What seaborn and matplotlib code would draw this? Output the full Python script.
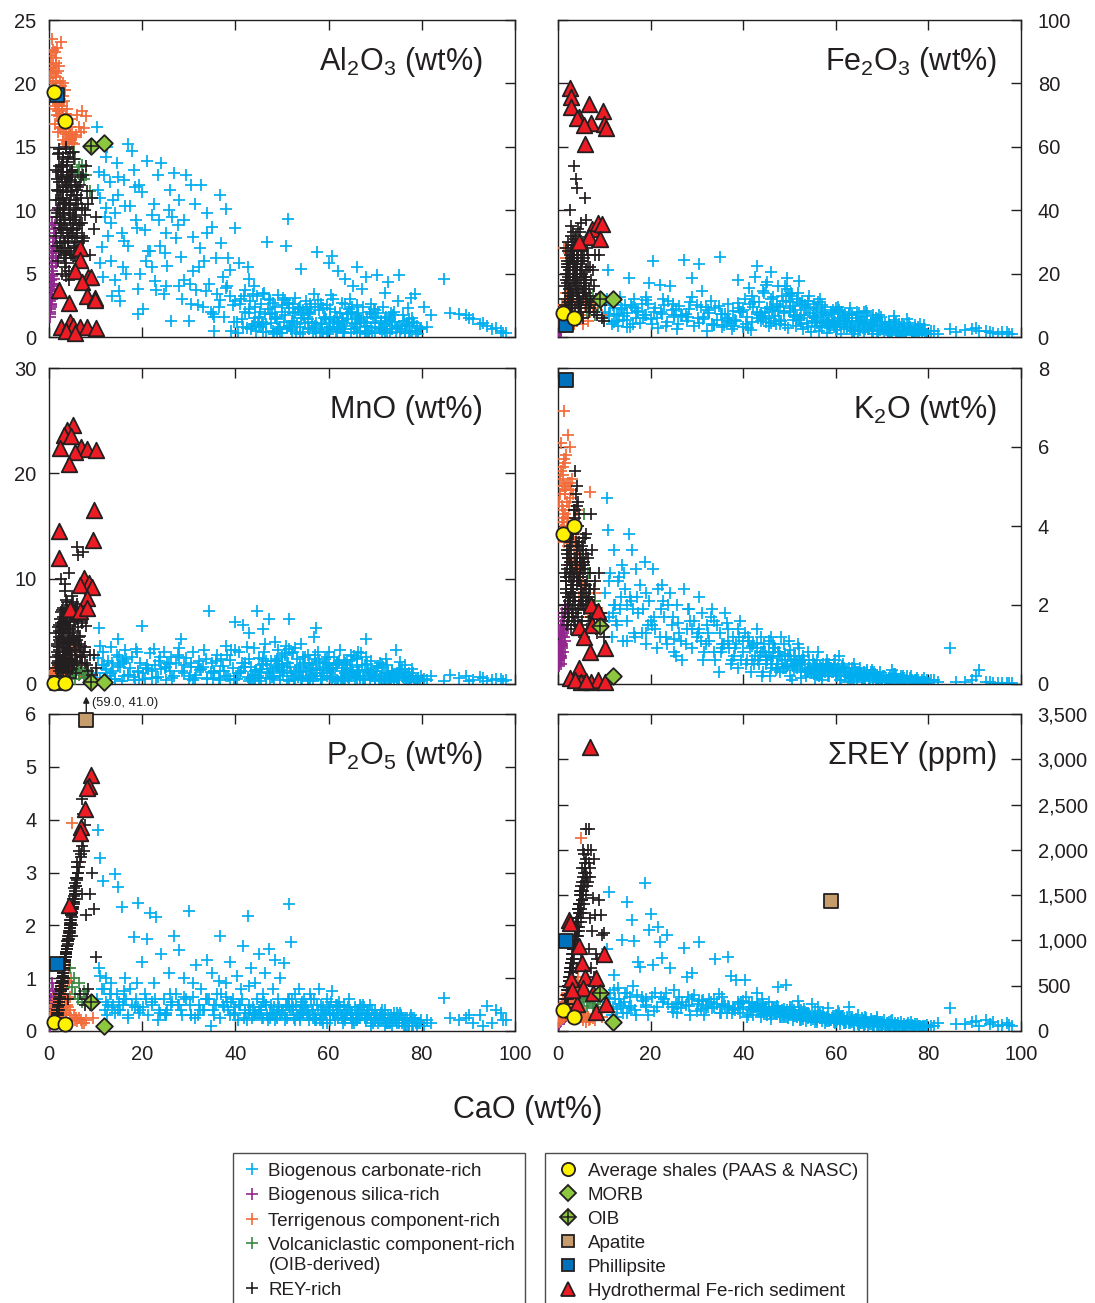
import matplotlib
matplotlib.use("Agg")
import matplotlib.pyplot as plt
import seaborn as sns
import pandas as pd
from matplotlib.lines import Line2D
from matplotlib.ticker import FuncFormatter
from matplotlib.legend_handler import HandlerLine2D
from matplotlib.transforms import Affine2D

# ---------------- data ----------------
# Biogenous carbonate-rich sediments (shared CaO for all panels)
carb_cao = [
    10.2, 10.5, 10.8, 11.0, 11.3, 11.6, 12.0, 12.3, 12.7, 13.0,
    13.4, 13.8, 14.1, 14.5, 14.9, 15.3, 15.6, 16.0, 16.4, 16.9,
    17.3, 17.8, 18.2, 18.7, 19.1, 19.6, 20.0, 20.5, 21.0, 21.6,
    22.0, 22.5, 23.0, 23.6, 24.1, 24.6, 25.1, 25.7, 26.2, 26.8,
    27.3, 27.8, 28.3, 28.9, 29.4, 30.0, 30.5, 31.0, 31.6, 32.2,
    32.7, 33.3, 33.9, 34.4, 35.0, 35.5, 36.1, 36.7, 37.3, 37.9,
    38.4, 38.9, 39.4, 39.9, 40.3, 40.8, 41.2, 41.7, 42.1, 42.6,
    43.0, 43.4, 43.9, 44.3, 44.7, 45.1, 45.5, 46.0, 46.4, 46.8,
    47.2, 47.6, 48.0, 48.4, 48.8, 49.2, 49.6, 50.0, 50.4, 50.8,
    51.2, 51.6, 52.0, 52.4, 52.8, 53.2, 53.6, 54.0, 54.4, 54.8,
    55.2, 55.6, 56.0, 56.4, 56.8, 57.2, 57.6, 58.0, 58.4, 58.8,
    59.2, 59.6, 60.0, 60.4, 60.8, 61.2, 61.6, 62.0, 62.4, 62.8,
    63.2, 63.6, 64.0, 64.4, 64.8, 65.2, 65.6, 66.0, 66.4, 66.8,
    67.2, 67.6, 68.0, 68.4, 68.8, 69.2, 69.6, 70.0, 70.4, 70.8,
    71.2, 71.6, 72.0, 72.4, 72.8, 73.2, 73.6, 74.0, 74.4, 74.8,
    75.2, 75.6, 76.0, 76.4, 76.8, 77.2, 77.6, 78.0, 78.6, 79.2,
    40.5, 42.9, 45.8, 48.2, 50.6, 53.0, 55.5, 58.1, 61.0, 63.9,
    44.0, 47.0, 49.9, 52.5, 54.6, 57.0, 59.8, 62.6, 65.0, 67.9,
    12.5, 14.8, 17.0, 19.4, 21.3, 23.3, 25.4, 28.6, 31.3, 34.7,
    80.5, 82.0, 84.7, 88.0, 89.5, 91.0, 92.5, 94.0, 96.0, 98.0,
    69.0, 71.0, 73.0, 75.0, 77.0, 64.6, 66.2, 60.6, 56.2, 51.8,
    90.2, 93.2, 95.0, 97.0, 97.5, 86.0, 81.2, 79.6, 76.2, 72.2,
    30.2, 32.0, 33.6, 35.2, 36.8, 38.2, 39.6, 41.0, 42.4, 43.8,
    45.2, 46.6, 48.6, 50.2, 51.4, 53.4, 55.0, 56.6, 58.3, 59.4,
    60.2, 61.4, 62.2, 63.0, 64.2, 65.4, 66.6, 67.4, 68.2, 69.4,
    70.2, 71.4, 72.6, 73.4, 74.2, 75.4, 76.6, 77.8, 78.8, 79.8,
    41.5, 43.2, 44.5, 46.2, 47.8, 49.4, 51.0, 52.2, 53.8, 55.8,
    57.4, 58.6, 60.4, 61.8, 63.4, 64.8, 66.0, 67.0, 68.6, 70.6,
    71.8, 73.8, 75.8, 77.4, 78.2, 46.5, 50.0, 54.2, 57.8, 62.0,
    13.2, 15.8, 18.4, 20.8, 23.8, 26.5, 29.0, 32.5, 35.8, 38.8,
    11.8, 14.2, 16.6, 19.0, 22.2, 24.8, 27.6, 30.8, 33.0, 37.0,
    42.0, 45.6, 48.9, 52.1, 55.3, 58.5, 61.7, 64.9, 68.1, 71.3,
    43.6, 47.4, 51.6, 55.9, 59.0, 63.5, 67.8, 72.5, 76.5, 79.0,
    40.0, 44.9, 49.0, 53.9, 56.6, 60.9, 65.8, 69.8, 74.6, 78.4,
    44.2, 45.9, 47.5, 49.1, 50.7, 52.3, 53.9, 55.5, 57.1, 58.7,
    60.3, 61.9, 63.5, 65.1, 66.7, 68.3, 69.9, 71.5, 73.1, 74.7,
    45.0, 48.0, 51.0, 54.0, 57.0, 60.0, 63.0, 66.0, 69.0, 72.0,
    46.0, 49.5, 52.7, 56.0, 59.6, 62.8, 66.4, 70.0, 73.6, 77.2,
    15.0, 20.2, 25.0, 30.4, 35.4, 38.0, 41.8, 43.0, 39.0, 36.4,
    11.0, 12.2, 13.6, 16.2, 18.9, 22.7, 26.0, 28.0, 33.8, 37.6,
]
carb_al2o3 = [
    16.6, 11.6, 13.0, 11.0, 7.1, 4.7, 9.5, 14.2, 8.0, 12.2,
    6.0, 10.8, 4.5, 13.7, 12.6, 2.8, 8.2, 7.6, 10.3, 15.2,
    10.3, 14.7, 13.2, 9.2, 1.8, 5.0, 11.4, 8.4, 13.9, 6.8,
    5.5, 10.5, 3.7, 9.2, 13.7, 3.4, 8.2, 10.0, 1.3, 12.9,
    7.8, 10.8, 6.3, 9.2, 12.8, 1.3, 12.0, 7.9, 3.7, 5.5,
    12.0, 6.0, 8.2, 4.2, 8.7, 0.5, 3.4, 11.2, 4.7, 10.1,
    6.2, 5.3, 2.5, 8.6, 1.2, 5.8, 3.0, 0.8, 3.7, 5.5,
    2.2, 0.6, 4.0, 1.5, 3.2, 0.9, 2.6, 0.4, 1.8, 7.5,
    3.0, 1.1, 0.5, 2.4, 1.6, 3.3, 0.8, 2.0, 1.2, 7.2,
    9.3, 2.6, 0.6, 1.9, 3.1, 1.0, 2.3, 5.4, 0.4, 1.5,
    2.8, 0.7, 1.8, 1.2, 3.4, 0.5, 6.7, 2.1, 1.0, 0.3,
    1.6, 2.5, 5.8, 0.8, 6.4, 1.3, 0.4, 5.2, 1.9, 2.7,
    0.6, 4.6, 1.4, 2.2, 0.3, 4.0, 1.0, 5.5, 1.7, 0.5,
    3.8, 1.2, 4.7, 0.4, 2.0, 0.8, 1.5, 0.3, 4.9, 0.7,
    1.1, 2.4, 0.5, 1.6, 4.3, 0.3, 0.9, 2.0, 0.4, 2.8,
    4.9, 0.6, 1.7, 0.3, 1.0, 0.5, 3.1, 0.4, 3.4, 0.2,
    0.3, 1.9, 1.2, 0.2, 2.9, 0.3, 1.4, 0.4, 3.0, 1.8,
    1.0, 2.2, 0.3, 1.2, 2.1, 0.9, 0.2, 0.7, 2.4, 1.1,
    15.0, 11.2, 7.2, 12.0, 6.8, 12.8, 5.6, 3.0, 10.5, 2.0,
    2.4, 1.7, 4.6, 1.8, 1.7, 1.4, 1.0, 0.9, 0.7, 0.3,
    1.8, 0.6, 1.3, 0.9, 2.3, 3.0, 2.5, 3.3, 2.4, 0.9,
    1.5, 1.1, 0.6, 0.5, 0.3, 1.9, 0.8, 0.6, 1.3, 3.5,
    4.2, 2.5, 3.6, 1.8, 2.9, 4.0, 1.2, 2.6, 0.7, 3.4,
    2.0, 0.4, 1.5, 3.1, 0.9, 2.2, 1.1, 0.3, 2.6, 1.4,
    0.8, 2.0, 1.2, 0.4, 1.8, 0.6, 1.4, 2.4, 0.9, 0.3,
    1.6, 0.8, 0.3, 1.9, 1.2, 0.4, 0.9, 1.5, 0.5, 0.7,
    1.4, 2.8, 0.5, 3.5, 1.9, 0.6, 2.7, 1.3, 0.2, 2.0,
    1.1, 0.4, 2.2, 1.6, 0.3, 2.0, 0.8, 1.3, 0.5, 1.9,
    0.6, 1.7, 0.9, 0.4, 1.2, 1.0, 2.5, 1.7, 2.9, 1.0,
    9.0, 5.5, 11.8, 6.0, 7.2, 9.5, 4.5, 7.0, 6.2, 3.2,
    12.8, 9.8, 5.0, 3.8, 9.6, 6.6, 8.8, 5.2, 2.4, 7.4,
    2.0, 0.8, 1.4, 0.5, 2.2, 1.0, 0.6, 1.9, 0.4, 1.3,
    0.9, 1.8, 2.3, 0.6, 1.5, 0.9, 0.2, 1.0, 0.3, 0.9,
    2.8, 1.2, 0.4, 2.4, 0.7, 1.1, 1.6, 2.2, 0.8, 1.1,
    2.4, 1.0, 2.9, 0.6, 1.7, 2.6, 0.8, 1.9, 0.6, 2.3,
    1.4, 0.5, 2.6, 1.1, 0.3, 1.6, 2.1, 0.5, 1.4, 0.7,
    1.6, 2.7, 0.7, 1.5, 2.4, 0.6, 1.3, 0.4, 2.6, 1.5,
    3.4, 0.3, 2.0, 2.6, 0.5, 1.5, 1.9, 1.1, 0.6, 1.4,
    3.6, 2.2, 4.0, 2.6, 1.6, 3.9, 3.2, 4.6, 0.5, 2.4,
    5.8, 10.2, 3.2, 12.4, 8.6, 4.4, 11.6, 4.0, 9.8, 1.6,
]
carb_fe2o3 = [
    8.0, 12.0, 21.0, 6.5, 10.2, 4.0, 9.0, 11.5, 7.2, 3.5,
    12.5, 8.8, 5.5, 10.0, 7.5, 18.6, 3.2, 9.5, 12.0, 6.0,
    8.2, 4.5, 10.5, 7.0, 11.8, 17.0, 5.8, 23.9, 9.2, 2.8,
    16.5, 7.4, 10.2, 4.8, 16.0, 8.5, 6.2, 2.5, 9.8, 7.0,
    24.4, 5.0, 8.8, 18.7, 3.5, 10.0, 23.0, 14.4, 6.4, 2.0,
    7.6, 4.2, 9.0, 5.5, 25.3, 3.0, 7.2, 6.0, 4.5, 8.2,
    5.0, 18.0, 7.8, 3.2, 12.0, 6.2, 15.5, 2.2, 9.6, 19.0,
    22.3, 11.0, 5.0, 14.5, 8.0, 17.5, 3.5, 20.5, 12.5, 6.6,
    10.5, 16.0, 4.2, 13.0, 7.5, 11.5, 2.8, 9.0, 14.0, 5.5,
    8.6, 12.0, 17.6, 4.0, 10.0, 6.8, 9.2, 3.0, 7.5, 5.0,
    6.2, 3.5, 8.5, 2.0, 7.0, 4.8, 9.5, 1.2, 5.5, 3.8,
    5.0, 7.2, 2.2, 6.0, 3.8, 1.0, 6.5, 4.2, 2.5, 7.0,
    3.0, 5.2, 0.8, 6.0, 4.0, 2.2, 5.5, 1.5, 3.5, 6.5,
    2.8, 4.5, 1.0, 3.6, 5.0, 0.8, 2.2, 4.0, 1.5, 3.0,
    2.0, 3.8, 0.6, 2.6, 4.2, 1.2, 3.0, 0.5, 2.2, 3.5,
    1.0, 2.5, 3.2, 0.6, 1.8, 2.8, 1.2, 0.5, 2.0, 1.5,
    4.0, 8.0, 9.5, 5.0, 12.8, 2.5, 6.0, 4.5, 8.0, 2.0,
    6.5, 4.0, 13.5, 7.0, 1.5, 10.2, 4.8, 6.0, 7.5, 1.8,
    5.0, 3.0, 7.8, 10.5, 6.0, 3.5, 8.8, 11.0, 5.8, 9.8,
    2.0, 1.0, 2.4, 2.2, 2.5, 1.8, 2.0, 1.2, 1.5, 0.8,
    5.8, 2.4, 4.8, 1.8, 3.8, 7.8, 4.4, 8.6, 11.0, 14.0,
    2.8, 1.5, 1.0, 1.6, 0.8, 1.5, 1.8, 1.0, 2.2, 1.6,
    6.0, 9.5, 3.8, 7.2, 10.5, 5.5, 8.0, 2.8, 11.0, 7.5,
    9.0, 5.2, 11.2, 7.8, 3.5, 10.0, 6.5, 12.0, 4.0, 8.5,
    3.2, 7.8, 5.0, 9.0, 2.5, 6.2, 8.2, 3.8, 5.5, 7.0,
    2.6, 4.8, 6.5, 2.0, 4.0, 5.6, 1.4, 3.2, 2.2, 1.0,
    10.5, 6.0, 14.0, 8.8, 5.5, 15.0, 7.0, 10.8, 4.5, 9.2,
    7.5, 5.0, 9.5, 3.0, 7.0, 4.5, 8.0, 2.5, 6.0, 4.2,
    3.0, 1.8, 4.5, 2.2, 4.0, 8.5, 11.0, 13.0, 6.8, 4.8,
    7.0, 10.0, 6.0, 8.0, 11.5, 6.5, 12.5, 8.5, 3.8, 10.8,
    10.0, 6.5, 9.0, 12.5, 8.0, 10.5, 7.2, 9.5, 11.5, 5.2,
    13.0, 6.0, 8.2, 5.5, 10.5, 3.2, 5.8, 2.0, 6.8, 1.2,
    7.0, 9.8, 6.2, 4.5, 8.0, 3.5, 4.2, 5.5, 1.5, 3.8,
    8.5, 4.8, 16.0, 9.5, 3.6, 5.0, 2.8, 6.2, 1.8, 2.4,
    5.8, 12.0, 8.2, 3.8, 9.8, 6.0, 11.5, 5.0, 7.8, 2.8,
    4.0, 6.8, 2.0, 5.2, 7.6, 3.4, 4.8, 2.0, 1.5, 3.0,
    16.5, 9.5, 6.5, 11.5, 3.0, 9.0, 3.0, 4.8, 2.0, 1.2,
    4.5, 18.5, 11.5, 5.5, 3.2, 7.4, 2.4, 3.2, 4.0, 0.8,
    5.5, 4.2, 6.8, 4.5, 7.2, 3.5, 4.8, 7.2, 9.0, 5.2,
    7.2, 4.8, 9.0, 4.0, 7.0, 12.0, 4.2, 6.2, 3.8, 2.6,
]
carb_mno = [
    1.0, 2.5, 5.3, 0.6, 1.8, 3.0, 0.4, 1.4, 2.2, 0.8,
    3.5, 1.2, 0.5, 2.8, 4.3, 1.6, 0.3, 2.0, 3.2, 0.9,
    1.5, 2.6, 0.7, 3.3, 1.1, 2.0, 5.5, 0.5, 1.8, 2.9,
    1.2, 3.3, 0.6, 2.2, 1.4, 3.0, 0.4, 1.9, 2.6, 0.8,
    2.0, 3.4, 4.3, 1.0, 2.5, 0.5, 1.6, 3.0, 0.9, 2.2,
    1.4, 3.2, 0.6, 6.9, 2.0, 1.0, 2.8, 0.4, 1.7, 3.6,
    0.8, 2.3, 1.5, 5.9, 0.5, 3.0, 1.2, 5.6, 2.0, 0.7,
    4.8, 1.6, 3.4, 0.6, 6.9, 2.5, 1.1, 5.2, 3.8, 1.8,
    6.2, 2.2, 0.8, 4.0, 1.5, 3.2, 0.4, 2.6, 1.2, 3.6,
    2.0, 6.2, 1.0, 3.0, 0.5, 2.4, 1.4, 3.8, 0.8, 2.0,
    1.2, 2.8, 0.6, 1.8, 4.5, 5.3, 1.0, 2.2, 0.4, 1.6,
    2.4, 0.8, 3.0, 1.4, 0.5, 2.6, 1.8, 0.3, 3.2, 1.2,
    0.6, 2.0, 1.4, 0.3, 2.8, 1.0, 0.5, 1.6, 3.0, 0.8,
    1.8, 0.4, 4.3, 1.2, 0.6, 2.2, 0.9, 0.3, 1.5, 0.5,
    0.8, 1.6, 0.3, 2.4, 1.0, 0.5, 1.2, 0.2, 3.2, 0.7,
    0.4, 1.2, 0.7, 1.8, 0.3, 1.0, 0.5, 0.8, 0.3, 0.6,
    1.0, 0.3, 1.8, 0.6, 2.8, 1.2, 0.3, 1.4, 0.7, 2.2,
    0.4, 1.0, 1.8, 0.5, 2.6, 0.8, 1.5, 0.6, 1.2, 0.4,
    0.5, 1.8, 0.9, 0.4, 1.4, 0.7, 2.0, 1.2, 0.6, 1.1,
    0.5, 0.8, 0.3, 0.6, 0.8, 0.4, 0.7, 0.3, 0.5, 0.4,
    1.0, 2.0, 0.6, 1.4, 0.8, 1.8, 2.5, 1.2, 0.9, 1.6,
    0.3, 0.6, 0.4, 0.5, 0.3, 0.9, 0.4, 0.3, 0.6, 1.0,
    0.8, 1.6, 2.4, 0.5, 1.2, 2.8, 0.4, 1.0, 3.5, 0.9,
    1.4, 0.6, 2.2, 1.0, 3.3, 0.7, 2.6, 1.3, 0.5, 2.0,
    1.0, 0.4, 2.2, 1.5, 0.7, 2.7, 1.1, 0.5, 1.9, 0.8,
    1.2, 0.5, 1.8, 0.3, 0.9, 2.1, 0.6, 1.4, 0.4, 0.8,
    2.0, 0.5, 1.3, 3.0, 0.7, 1.9, 0.4, 2.9, 1.1, 0.6,
    2.0, 0.8, 1.5, 0.4, 2.3, 1.2, 0.6, 2.9, 1.0, 1.7,
    0.4, 0.9, 1.4, 0.6, 1.0, 2.2, 1.3, 0.6, 3.0, 2.0,
    1.0, 2.2, 0.4, 1.5, 2.6, 0.6, 1.8, 1.3, 2.2, 0.5,
    1.8, 0.5, 2.4, 1.2, 0.6, 1.5, 2.8, 0.4, 1.6, 2.4,
    1.6, 0.3, 2.2, 0.8, 1.2, 0.5, 2.0, 0.9, 2.6, 0.4,
    0.6, 1.4, 0.3, 2.0, 1.0, 0.4, 1.8, 0.5, 1.1, 0.3,
    3.2, 0.8, 2.4, 1.6, 0.3, 1.5, 0.8, 1.2, 0.6, 0.2,
    1.2, 2.4, 0.5, 1.6, 2.9, 0.8, 1.8, 0.4, 2.4, 1.3,
    0.7, 1.9, 1.0, 2.3, 0.5, 1.3, 0.7, 1.8, 0.4, 1.0,
    0.6, 1.2, 2.0, 0.4, 2.8, 1.8, 0.6, 2.4, 1.2, 0.4,
    1.9, 0.8, 3.4, 1.5, 2.6, 0.7, 1.3, 0.5, 1.2, 0.4,
    2.6, 1.0, 1.6, 2.0, 1.2, 0.8, 1.6, 2.4, 3.2, 0.6,
    3.6, 1.0, 2.0, 0.8, 3.0, 1.8, 1.2, 2.6, 0.5, 1.2,
]
carb_k2o = [
    2.3, 4.7, 3.9, 1.7, 2.8, 1.2, 3.4, 2.0, 1.5, 2.6,
    1.9, 3.0, 1.1, 2.4, 1.6, 3.8, 2.2, 3.4, 1.3, 2.9,
    1.8, 2.5, 1.3, 3.1, 1.0, 2.1, 1.6, 2.9, 1.4, 2.4,
    1.2, 2.5, 1.7, 1.0, 2.3, 1.5, 0.8, 2.0, 1.3, 0.6,
    2.4, 1.4, 1.9, 0.9, 1.6, 1.2, 2.2, 1.8, 0.8, 1.5,
    1.1, 1.9, 0.6, 1.5, 1.3, 0.9, 1.8, 1.4, 0.5, 1.2,
    1.0, 0.4, 1.6, 0.8, 1.3, 0.6, 1.1, 0.3, 1.0, 0.7,
    0.9, 0.5, 1.2, 0.3, 0.8, 0.6, 1.1, 0.4, 0.7, 0.9,
    0.5, 0.8, 0.3, 0.6, 1.0, 0.4, 0.7, 0.2, 0.6, 0.5,
    0.7, 0.4, 0.9, 0.3, 0.5, 0.6, 0.2, 0.8, 0.4, 0.3,
    0.5, 0.3, 0.6, 0.2, 0.4, 0.5, 0.3, 0.6, 0.2, 0.4,
    0.3, 0.5, 0.2, 0.4, 0.3, 0.1, 0.5, 0.2, 0.3, 0.4,
    0.2, 0.4, 0.1, 0.3, 0.2, 0.4, 0.1, 0.3, 0.2, 0.35,
    0.15, 0.3, 0.1, 0.25, 0.2, 0.05, 0.3, 0.1, 0.2, 0.15,
    0.1, 0.2, 0.05, 0.15, 0.25, 0.1, 0.05, 0.2, 0.1, 0.15,
    0.1, 0.05, 0.15, 0.1, 0.05, 0.1, 0.15, 0.05, 0.1, 0.05,
    0.5, 1.4, 0.2, 1.2, 0.1, 0.7, 0.15, 0.45, 0.1, 0.5,
    0.2, 0.35, 1.1, 0.15, 0.3, 0.1, 0.6, 0.05, 0.25, 0.35,
    1.6, 1.1, 2.2, 1.5, 0.9, 1.2, 0.7, 1.6, 0.6, 0.3,
    0.1, 0.05, 0.9, 0.05, 0.1, 0.35, 0.05, 0.02, 0.02, 0.02,
    0.05, 0.1, 0.2, 0.05, 0.1, 0.05, 0.1, 0.7, 0.8, 1.0,
    0.2, 0.05, 0.02, 0.02, 0.02, 0.05, 0.1, 0.03, 0.2, 0.35,
    1.3, 1.0, 1.6, 0.8, 1.1, 0.9, 0.6, 1.2, 0.5, 0.8,
    0.6, 0.9, 0.4, 0.7, 0.5, 0.35, 0.6, 0.25, 0.45, 0.3,
    0.2, 0.45, 0.3, 0.15, 0.35, 0.25, 0.2, 0.1, 0.3, 0.15,
    0.2, 0.1, 0.25, 0.05, 0.15, 0.2, 0.05, 0.1, 0.05, 0.1,
    0.9, 0.6, 1.0, 0.5, 0.8, 0.45, 0.7, 0.55, 0.3, 0.4,
    0.35, 0.2, 0.25, 0.4, 0.2, 0.3, 0.15, 0.2, 0.1, 0.05,
    0.05, 0.1, 0.05, 0.1, 0.02, 1.0, 0.85, 0.6, 0.5, 0.3,
    2.7, 2.1, 1.9, 1.7, 2.0, 1.1, 1.4, 1.3, 1.0, 1.4,
    1.8, 2.8, 1.2, 2.3, 1.9, 1.7, 1.0, 1.1, 1.7, 0.9,
    0.6, 0.8, 0.4, 0.6, 0.25, 0.5, 0.3, 0.2, 0.25, 0.1,
    0.7, 0.4, 0.55, 0.3, 0.4, 0.2, 0.3, 0.1, 0.05, 0.15,
    1.1, 0.7, 0.6, 0.35, 0.45, 0.3, 0.1, 0.15, 0.2, 0.05,
    0.8, 0.65, 0.5, 0.75, 0.45, 0.55, 0.3, 0.45, 0.25, 0.35,
    0.3, 0.2, 0.15, 0.25, 0.3, 0.2, 0.1, 0.15, 0.1, 0.05,
    0.5, 0.7, 0.35, 0.4, 0.2, 0.35, 0.25, 0.15, 0.1, 0.08,
    1.2, 0.45, 0.6, 0.25, 0.4, 0.2, 0.2, 0.12, 0.05, 0.1,
    2.0, 1.5, 1.15, 1.4, 1.0, 0.7, 0.95, 1.05, 1.2, 1.55,
    2.6, 2.0, 2.2, 1.9, 1.3, 2.1, 1.55, 1.9, 0.8, 0.6,
]
carb_p2o5 = [
    0.6, 3.8, 1.2, 3.27, 0.8, 2.83, 0.4, 1.0, 0.5, 0.7,
    0.9, 0.5, 2.98, 0.7, 2.73, 0.4, 2.35, 0.6, 1.0, 0.3,
    0.8, 0.5, 1.77, 0.6, 2.42, 0.4, 1.3, 0.7, 1.75, 2.23,
    0.5, 0.9, 2.16, 0.4, 1.45, 0.6, 0.3, 1.1, 0.5, 1.8,
    0.7, 1.53, 0.4, 1.0, 0.6, 2.28, 0.3, 0.9, 1.25, 0.5,
    0.8, 0.4, 1.35, 0.6, 1.1, 0.3, 0.7, 1.8, 0.5, 0.9,
    0.4, 1.3, 0.6, 0.3, 1.05, 0.5, 0.8, 1.6, 0.4, 2.18,
    0.5, 1.2, 0.3, 0.9, 0.6, 1.45, 0.4, 0.7, 1.1, 0.3,
    1.56, 0.5, 0.8, 1.34, 0.3, 0.6, 1.0, 0.4, 1.28, 0.5,
    0.6, 2.40, 1.68, 0.4, 0.7, 0.3, 0.8, 0.5, 0.35, 0.6,
    0.5, 0.3, 0.7, 0.4, 0.6, 0.25, 0.5, 0.8, 0.3, 0.45,
    0.35, 0.6, 0.4, 0.2, 0.75, 0.3, 0.5, 0.25, 0.45, 0.3,
    0.5, 0.25, 0.4, 0.6, 0.3, 0.2, 0.45, 0.35, 0.25, 0.5,
    0.3, 0.45, 0.2, 0.35, 0.5, 0.25, 0.15, 0.4, 0.3, 0.2,
    0.35, 0.2, 0.4, 0.15, 0.3, 0.25, 0.1, 0.35, 0.2, 0.3,
    0.15, 0.3, 0.2, 0.1, 0.25, 0.15, 0.3, 0.1, 0.2, 0.15,
    0.2, 0.35, 0.25, 0.45, 0.2, 0.5, 0.3, 0.2, 0.35, 0.3,
    0.3, 0.2, 0.4, 0.25, 0.35, 0.2, 0.4, 0.3, 0.15, 0.25,
    0.3, 0.4, 0.25, 0.35, 0.3, 0.2, 0.4, 0.3, 0.25, 0.1,
    0.1, 0.15, 0.63, 0.2, 0.25, 0.15, 0.3, 0.47, 0.4, 0.2,
    0.1, 0.3, 0.15, 0.25, 0.1, 0.4, 0.2, 0.55, 0.6, 0.4,
    0.3, 0.1, 0.15, 0.35, 0.2, 0.25, 0.2, 0.15, 0.1, 0.25,
    0.5, 0.3, 0.6, 0.4, 0.25, 0.55, 0.35, 0.5, 0.2, 0.45,
    0.3, 0.5, 0.2, 0.4, 0.6, 0.3, 0.45, 0.25, 0.5, 0.35,
    0.4, 0.2, 0.55, 0.3, 0.45, 0.15, 0.35, 0.5, 0.25, 0.4,
    0.25, 0.4, 0.15, 0.3, 0.2, 0.35, 0.1, 0.25, 0.15, 0.2,
    0.6, 0.4, 0.3, 0.55, 0.35, 0.45, 0.25, 0.6, 0.4, 0.3,
    0.2, 0.4, 0.3, 0.5, 0.25, 0.35, 0.2, 0.45, 0.3, 0.15,
    0.3, 0.2, 0.15, 0.25, 0.1, 0.5, 0.35, 0.55, 0.4, 0.45,
    0.7, 0.5, 0.45, 0.6, 0.35, 0.55, 0.65, 0.4, 0.5, 0.3,
    0.8, 0.35, 0.6, 0.45, 0.55, 0.3, 0.5, 0.65, 0.4, 0.7,
    0.35, 0.45, 0.25, 0.4, 0.3, 0.2, 0.35, 0.25, 0.3, 0.2,
    0.25, 0.35, 0.45, 0.2, 0.3, 0.4, 0.25, 0.15, 0.2, 0.1,
    0.45, 0.3, 0.35, 0.25, 0.4, 0.3, 0.2, 0.3, 0.15, 0.25,
    0.35, 0.55, 0.25, 0.4, 0.3, 0.45, 0.2, 0.4, 0.3, 0.15,
    0.3, 0.4, 0.2, 0.35, 0.25, 0.4, 0.2, 0.3, 0.15, 0.35,
    0.4, 0.3, 0.5, 0.35, 0.25, 0.45, 0.15, 0.3, 0.2, 0.1,
    0.25, 0.3, 0.2, 0.3, 0.15, 0.25, 0.35, 0.2, 0.25, 0.1,
    0.55, 0.45, 0.35, 0.3, 0.5, 0.65, 0.25, 0.85, 0.55, 0.95,
    1.05, 0.55, 0.45, 0.75, 0.9, 0.6, 0.7, 0.5, 0.6, 0.45,
]
carb_rey = [
    320, 900, 260, 1538, 420, 180, 620, 350, 240, 480,
    300, 1000, 200, 420, 1420, 250, 380, 1225, 997, 180,
    766, 710, 380, 1638, 260, 1115, 1292, 729, 420, 1152,
    979, 802, 350, 1056, 692, 260, 450, 200, 380, 320,
    913, 600, 280, 644, 400, 220, 979, 330, 180, 290,
    350, 250, 791, 300, 200, 380, 280, 821, 607, 240,
    563, 320, 200, 260, 563, 150, 310, 230, 180, 270,
    416, 220, 150, 300, 240, 180, 320, 130, 250, 200,
    280, 490, 160, 230, 180, 508, 140, 260, 200, 120,
    200, 150, 270, 120, 180, 240, 110, 200, 150, 300,
    160, 220, 100, 180, 140, 200, 90, 150, 250, 120,
    140, 100, 180, 220, 80, 160, 120, 90, 150, 270,
    110, 150, 70, 130, 180, 90, 140, 60, 120, 100,
    90, 130, 60, 110, 150, 80, 100, 50, 120, 70,
    80, 60, 110, 50, 90, 70, 40, 100, 60, 80,
    50, 90, 40, 70, 60, 30, 80, 50, 40, 60,
    380, 280, 200, 150, 260, 130, 170, 110, 140, 80,
    350, 270, 190, 230, 120, 170, 90, 130, 70, 110,
    160, 200, 400, 180, 260, 420, 300, 180, 340, 410,
    60, 90, 250, 80, 100, 60, 120, 100, 70, 60,
    130, 90, 70, 60, 80, 110, 150, 200, 260, 330,
    110, 80, 60, 90, 70, 80, 50, 70, 100, 120,
    300, 250, 350, 200, 280, 230, 320, 180, 260, 220,
    200, 250, 150, 230, 170, 210, 130, 190, 160, 140,
    130, 170, 100, 150, 120, 90, 140, 80, 110, 70,
    80, 100, 60, 90, 50, 70, 60, 40, 55, 45,
    240, 300, 190, 260, 220, 150, 230, 170, 200, 130,
    150, 110, 160, 90, 130, 80, 110, 70, 100, 60,
    70, 50, 65, 45, 55, 210, 190, 160, 120, 110,
    350, 280, 330, 220, 300, 250, 350, 270, 300, 240,
    260, 320, 230, 290, 380, 210, 290, 240, 320, 260,
    270, 220, 240, 180, 150, 130, 120, 90, 80, 70,
    280, 190, 170, 140, 120, 100, 75, 60, 50, 40,
    330, 250, 200, 160, 140, 110, 90, 70, 60, 45,
    230, 180, 260, 150, 200, 120, 170, 100, 140, 120,
    120, 90, 130, 70, 100, 60, 80, 50, 70, 60,
    260, 200, 170, 140, 110, 95, 85, 70, 55, 45,
    190, 230, 150, 120, 130, 90, 75, 65, 50, 35,
    420, 380, 260, 330, 280, 250, 320, 230, 300, 200,
    360, 450, 280, 500, 350, 320, 300, 380, 260, 200,
]

# Biogenous silica-rich
sil_cao = [0.2, 0.3, 0.4, 0.5, 0.6, 0.7, 0.8, 0.9, 1.0, 1.1,
           0.25, 0.35, 0.45, 0.55, 0.65, 0.75, 0.85, 1.2, 1.4, 1.6,
           0.15, 0.3, 0.45, 0.6, 0.75, 0.9, 1.05, 1.3, 1.5, 1.8,
           0.2, 0.35, 0.5, 0.65, 0.8, 0.95, 1.15, 0.4, 0.7, 1.0]
sil_al2o3 = [2.2, 3.0, 4.5, 2.6, 6.0, 3.6, 7.5, 5.0, 8.5, 4.0,
             1.8, 2.5, 3.2, 5.5, 6.8, 9.0, 4.2, 7.0, 5.8, 9.5,
             1.6, 2.8, 3.8, 4.8, 5.2, 6.4, 7.8, 8.8, 6.2, 10.0,
             2.0, 3.4, 4.2, 5.6, 6.6, 7.2, 8.2, 2.4, 3.0, 4.6]
sil_fe2o3 = [3, 5, 2, 6, 4, 7, 3, 5, 8, 4, 2, 4, 6, 3, 5, 2, 7, 4, 6, 3,
             2, 3, 4, 5, 3, 6, 4, 5, 7, 3, 4, 2, 5, 3, 6, 4, 5, 3, 2, 6]
sil_mno = [0.3, 0.5, 0.8, 0.2, 1.0, 0.4, 0.6, 0.3, 1.2, 0.5,
           0.2, 0.4, 0.7, 0.3, 0.9, 0.5, 0.6, 0.8, 0.4, 1.1,
           0.2, 0.3, 0.5, 0.4, 0.7, 0.3, 0.9, 0.6, 0.4, 0.8,
           0.4, 0.2, 0.6, 0.5, 0.3, 0.8, 0.5, 0.3, 0.6, 0.4]
sil_k2o = [0.6, 0.9, 1.2, 0.7, 1.5, 0.5, 1.8, 1.0, 1.6, 0.8,
           0.55, 0.75, 1.1, 1.4, 0.65, 1.3, 0.95, 1.7, 1.2, 2.0,
           0.45, 0.6, 0.85, 0.7, 1.05, 1.2, 1.35, 1.5, 1.1, 1.9,
           0.5, 0.8, 0.65, 1.0, 1.25, 0.9, 1.45, 0.7, 0.95, 1.3]
sil_p2o5 = [0.2, 0.4, 0.3, 0.6, 0.25, 0.5, 0.8, 0.35, 0.7, 0.45,
            0.15, 0.3, 0.55, 0.4, 0.9, 0.25, 0.6, 0.5, 0.35, 0.75,
            0.1, 0.2, 0.3, 0.25, 0.4, 0.35, 0.5, 0.45, 0.3, 0.6,
            0.15, 0.25, 0.2, 0.35, 0.3, 0.45, 0.4, 0.2, 0.3, 0.5]
sil_rey = [120, 180, 100, 220, 150, 260, 140, 200, 300, 170,
           90, 130, 210, 160, 240, 110, 190, 280, 150, 230,
           80, 110, 140, 170, 130, 200, 160, 250, 190, 220,
           100, 130, 160, 120, 180, 150, 210, 140, 170, 200]

# Terrigenous component-rich
terr_cao = [0.6, 0.8, 1.0, 1.2, 1.4, 1.6, 1.8, 2.0, 2.2, 2.4,
            2.6, 2.8, 3.0, 3.2, 3.4, 3.6, 3.8, 4.0, 4.3, 4.6,
            5.0, 5.5, 6.0, 6.5, 7.0, 1.1, 1.5, 1.9, 2.3, 2.7,
            3.1, 3.5, 0.7, 1.3, 1.7, 2.1, 2.5, 2.9, 8.0, 9.5,
            0.4, 0.9, 1.3, 1.8, 2.2, 2.7, 3.2, 3.7, 4.2, 4.8,
            0.5, 1.0, 1.5, 2.0, 2.5, 3.0, 3.5, 4.0, 4.5, 5.3,
            0.3, 0.8, 1.2, 1.6, 2.1, 2.6, 3.3, 3.9, 5.8, 6.8,
            0.6, 1.1, 1.4, 1.9, 2.4, 2.8, 3.4, 4.4, 5.0, 7.5]
terr_al2o3 = [23.5, 21.5, 19.5, 22.5, 18.0, 20.5, 17.5, 21.0, 19.0, 16.5,
              23.3, 18.5, 20.0, 17.0, 19.5, 16.0, 18.0, 16.8, 15.5, 17.2,
              16.0, 15.8, 17.5, 16.6, 17.8, 18.8, 22.0, 16.2, 20.2, 18.2,
              17.6, 15.2, 20.8, 16.8, 22.8, 17.8, 19.8, 15.5, 17.4, 15.0,
              21.2, 20.0, 18.6, 19.4, 17.4, 18.0, 16.4, 17.6, 16.2, 15.6,
              22.2, 19.2, 21.6, 18.4, 17.0, 19.0, 16.8, 15.8, 16.6, 15.2,
              20.4, 22.6, 18.2, 20.8, 21.4, 17.6, 18.6, 15.4, 15.9, 16.2,
              19.8, 21.0, 20.2, 17.8, 18.8, 16.6, 17.2, 15.9, 15.3, 16.5]
terr_fe2o3 = [6, 10, 4, 28, 8, 5, 25, 12, 7, 3,
              9, 15, 6, 11, 4, 8, 20, 5, 10, 7,
              9, 6, 11, 5, 8, 3, 7, 12, 5, 9,
              6, 4, 8, 10, 14, 5, 7, 11, 9, 7,
              5, 7, 9, 4, 12, 6, 8, 10, 5, 7,
              8, 4, 6, 10, 5, 13, 7, 6, 9, 4,
              6, 9, 5, 7, 11, 4, 8, 6, 10, 9,
              4, 7, 10, 6, 8, 12, 5, 9, 7, 10]
terr_mno = [0.3, 0.6, 0.2, 1.0, 0.4, 1.5, 0.5, 2.0, 0.8, 0.3,
            1.2, 0.5, 2.5, 0.7, 1.8, 0.4, 3.0, 1.0, 0.6, 2.2,
            1.5, 3.5, 2.8, 1.2, 2.0, 0.4, 0.8, 1.6, 0.5, 1.1,
            0.9, 2.4, 0.3, 0.7, 1.3, 0.6, 1.9, 0.4, 0.8, 0.5,
            0.5, 0.8, 1.2, 0.4, 1.6, 0.9, 2.0, 0.6, 1.4, 2.6,
            0.4, 0.7, 1.0, 1.8, 0.5, 1.3, 2.2, 0.8, 3.0, 1.7,
            0.2, 0.6, 0.9, 1.4, 0.3, 1.1, 0.7, 2.4, 3.2, 1.0,
            0.5, 1.2, 0.3, 0.9, 1.5, 0.6, 2.6, 1.8, 1.1, 0.7]
terr_k2o = [6.1, 5.0, 4.2, 6.9, 3.6, 5.6, 5.8, 4.6, 6.3, 3.2,
            6.0, 4.0, 5.2, 3.0, 4.4, 2.8, 3.8, 2.6, 3.4, 2.2,
            2.0, 2.4, 1.9, 1.7, 4.86, 5.3, 4.8, 3.9, 4.5, 3.5,
            2.9, 3.2, 5.4, 4.1, 3.7, 5.1, 2.7, 3.0, 2.3, 1.8,
            5.2, 4.5, 3.8, 5.0, 4.2, 3.4, 4.8, 3.1, 3.6, 2.7,
            4.8, 5.5, 4.3, 3.7, 5.1, 3.9, 3.3, 4.4, 2.9, 2.6,
            4.6, 4.1, 5.7, 4.9, 3.5, 4.7, 3.9, 3.3, 2.5, 2.2,
            3.9, 4.4, 5.0, 4.2, 3.8, 4.9, 3.6, 2.8, 3.2, 2.0]
terr_p2o5 = [0.15, 0.3, 0.2, 0.5, 0.25, 0.4, 0.6, 0.35, 0.8, 0.2,
             0.5, 0.3, 0.7, 0.4, 0.9, 0.25, 0.6, 0.45, 1.2, 0.3,
             3.93, 0.2, 0.18, 0.25, 0.15, 0.35, 0.5, 0.7, 0.3, 0.55,
             0.4, 0.65, 0.2, 0.45, 0.35, 0.6, 0.75, 0.3, 0.2, 0.25,
             0.2, 0.35, 0.5, 0.3, 0.6, 0.45, 0.7, 0.35, 0.9, 1.0,
             0.3, 0.25, 0.45, 0.6, 0.4, 0.8, 0.5, 0.95, 0.65, 0.3,
             0.15, 0.4, 0.3, 0.55, 0.7, 0.35, 0.85, 0.5, 0.25, 0.2,
             0.25, 0.5, 0.4, 0.3, 0.65, 0.5, 1.1, 0.4, 0.2, 0.15]
terr_rey = [120, 200, 150, 300, 180, 250, 400, 220, 500, 160,
            350, 280, 600, 200, 450, 300, 700, 250, 380, 180,
            2130, 120, 100, 150, 130, 260, 320, 420, 550, 240,
            330, 480, 140, 230, 300, 200, 380, 260, 120, 150,
            150, 220, 280, 200, 350, 260, 420, 300, 500, 380,
            180, 140, 250, 320, 220, 400, 280, 520, 350, 200,
            100, 170, 230, 290, 380, 240, 460, 330, 180, 120,
            130, 260, 200, 340, 280, 450, 360, 600, 250, 140]

# Volcaniclastic component-rich (OIB-derived)
volc_cao = [4.5, 5.0, 5.6, 6.2, 6.5, 7.0, 7.5, 8.0, 8.7, 5.3]
volc_al2o3 = [12.0, 13.0, 14.0, 12.9, 13.4, 13.6, 12.5, 12.8, 11.5, 14.6]
volc_fe2o3 = [12, 10, 15, 8, 11, 9, 13, 7, 10, 14]
volc_mno = [0.8, 1.2, 0.5, 1.5, 0.9, 1.1, 0.6, 1.3, 0.7, 1.0]
volc_k2o = [2.6, 3.0, 4.3, 2.2, 2.8, 2.4, 1.9, 2.1, 1.7, 3.4]
volc_p2o5 = [1.2, 0.84, 0.7, 0.6, 0.9, 0.55, 0.75, 0.65, 0.5, 1.0]
volc_rey = [300, 350, 400, 280, 320, 360, 250, 300, 270, 380]

# REY-rich
reyr_cao = [1.5, 1.8, 2.0, 2.2, 2.4, 2.6, 2.8, 3.0, 3.2, 3.4,
            3.6, 3.8, 4.0, 4.2, 4.4, 4.6, 4.8, 5.0, 5.2, 5.4,
            5.6, 5.8, 6.0, 6.2, 6.5, 6.8, 7.0, 7.3, 7.6, 8.0,
            8.4, 8.8, 9.2, 9.6, 10.0, 2.3, 2.7, 3.1, 3.5, 3.9,
            1.9, 2.5, 2.9, 3.3, 3.7, 4.1, 4.5, 4.9, 5.3, 5.7,
            6.1, 6.6, 7.1, 7.7, 8.2, 1.7, 2.1, 3.0, 4.0, 5.0,
            1.6, 2.0, 2.4, 2.8, 3.2, 3.6, 4.0, 4.4, 4.8, 5.2,
            1.8, 2.2, 2.6, 3.0, 3.4, 3.8, 4.2, 4.6, 5.0, 5.6,
            2.1, 2.5, 2.9, 3.3, 3.7, 4.1, 4.5, 4.9, 5.4, 6.0,
            2.3, 2.7, 3.1, 3.5, 3.9, 4.3, 4.7, 5.1, 5.8, 6.4,
            1.7, 2.2, 2.6, 3.2, 3.8, 4.4, 5.0, 5.6, 6.3, 7.0,
            2.0, 2.5, 3.0, 3.5, 4.0, 4.5, 5.3, 6.1, 6.9, 7.8,
            1.6, 2.1, 2.6, 3.1, 3.6, 4.1, 4.6, 5.1, 5.6, 6.1,
            1.9, 2.4, 2.9, 3.4, 3.9, 4.4, 4.9, 5.5, 6.6, 7.2,
            2.2, 2.7, 3.2, 3.7, 4.2, 4.7, 5.2, 5.9, 1.8, 3.6]
reyr_al2o3 = [8.0, 12.5, 6.0, 14.5, 9.5, 11.0, 5.0, 13.5, 7.5, 10.5,
              15.0, 8.5, 12.0, 4.5, 10.0, 13.0, 6.5, 11.5, 9.0, 14.0,
              7.0, 12.0, 8.5, 10.5, 6.0, 11.0, 9.0, 12.8, 7.8, 13.5,
              10.5, 6.5, 11.0, 8.5, 9.5, 10.0, 7.0, 14.0, 5.5, 12.5,
              11.5, 9.0, 13.0, 6.5, 10.5, 8.0, 14.5, 5.0, 10.0, 9.5,
              7.5, 12.0, 8.0, 10.0, 11.5, 9.5, 13.5, 11.0, 7.0, 13.0,
              13.2, 10.2, 7.4, 12.2, 9.2, 5.8, 14.2, 8.2, 11.2, 6.2,
              9.8, 14.8, 6.8, 11.8, 8.8, 13.8, 5.2, 10.8, 12.8, 7.8,
              12.2, 8.2, 14.2, 10.6, 6.6, 12.6, 9.2, 13.2, 7.2, 11.6,
              11.6, 13.6, 9.6, 7.6, 12.6, 10.6, 8.6, 14.6, 10.2, 8.8,
              7.2, 10.8, 12.6, 9.8, 11.4, 6.8, 13.2, 9.2, 11.8, 10.2,
              13.0, 8.6, 10.2, 12.2, 7.8, 9.4, 11.2, 8.2, 12.6, 9.6,
              10.8, 6.8, 13.4, 8.4, 11.8, 7.4, 12.4, 9.6, 6.4, 11.2,
              14.4, 9.0, 11.4, 6.2, 13.6, 10.4, 8.0, 12.2, 9.0, 7.6,
              8.6, 12.8, 10.6, 14.8, 9.8, 12.0, 8.4, 10.8, 11.6, 4.8]
reyr_fe2o3 = [12, 20, 8, 30, 15, 40, 25, 10, 18, 54,
              22, 50, 14, 47, 28, 9, 33, 16, 24, 6,
              19, 44, 37, 12, 26, 8, 22, 30, 21, 26,
              7, 26, 10, 6, 5, 18, 32, 11, 27, 15,
              24, 13, 35, 20, 9, 28, 17, 36, 12, 25,
              14, 10, 18, 8, 12, 6, 22, 29, 19, 11,
              16, 22, 9, 27, 13, 31, 18, 25, 11, 20,
              28, 14, 20, 8, 24, 17, 29, 12, 21, 15,
              11, 26, 16, 30, 19, 23, 10, 27, 14, 18,
              21, 9, 25, 15, 32, 12, 20, 24, 17, 22,
              18, 27, 12, 23, 16, 34, 8, 19, 28, 13,
              23, 15, 26, 19, 11, 30, 14, 21, 9, 16,
              10, 19, 24, 14, 29, 21, 13, 26, 16, 10,
              17, 23, 12, 26, 20, 14, 23, 30, 15, 11,
              20, 13, 33, 18, 25, 10, 27, 14, 9, 22]
reyr_mno = [1.5, 3.0, 0.8, 4.5, 2.0, 10.0, 5.5, 1.0, 3.5, 8.8,
            2.5, 6.0, 1.2, 10.5, 4.0, 0.6, 7.5, 2.2, 5.0, 1.8,
            3.2, 6.5, 13.0, 12.2, 4.5, 2.0, 5.8, 12.5, 3.0, 5.5,
            1.2, 2.8, 0.9, 2.8, 1.5, 4.0, 7.0, 2.5, 9.5, 3.8,
            2.2, 6.8, 4.0, 1.5, 8.0, 3.2, 5.2, 2.0, 6.2, 1.0,
            4.2, 2.6, 6.0, 3.5, 1.8, 0.5, 3.5, 7.2, 4.8, 2.4,
            4.8, 2.8, 6.2, 1.6, 5.2, 3.4, 7.0, 2.4, 6.6, 4.2,
            3.6, 5.6, 1.9, 4.6, 2.8, 7.8, 3.2, 5.9, 1.4, 6.8,
            5.0, 2.0, 6.4, 3.8, 1.2, 5.4, 3.0, 7.4, 4.4, 2.2,
            2.6, 4.4, 1.8, 6.0, 3.4, 5.2, 2.4, 4.8, 7.2, 3.8,
            3.8, 1.2, 5.8, 2.8, 6.6, 4.2, 8.4, 3.2, 5.4, 2.6,
            1.8, 4.8, 3.0, 7.0, 2.2, 5.6, 4.0, 6.2, 3.6, 2.0,
            2.6, 4.2, 1.4, 5.8, 3.0, 6.8, 2.2, 4.6, 3.4, 7.6,
            5.4, 1.6, 3.8, 2.0, 7.0, 4.4, 1.8, 6.0, 4.6, 3.0,
            3.2, 5.0, 2.4, 6.4, 1.6, 4.2, 7.8, 2.8, 2.0, 5.2]
reyr_k2o = [1.8, 2.6, 1.5, 3.2, 2.2, 2.8, 1.4, 3.6, 2.4, 4.4,
            5.4, 4.8, 5.0, 3.0, 4.6, 2.0, 3.4, 2.5, 1.6, 3.7,
            1.9, 3.7, 2.2, 1.4, 3.2, 1.6, 2.8, 3.4, 2.0, 2.6,
            1.3, 2.8, 1.8, 1.6, 1.2, 2.1, 3.0, 1.7, 2.7, 4.0,
            2.9, 2.0, 3.3, 1.8, 4.2, 2.5, 4.3, 1.5, 3.0, 1.2,
            3.8, 2.4, 4.3, 2.4, 1.4, 2.3, 1.9, 2.6, 4.5, 2.9,
            2.0, 3.4, 1.7, 2.9, 3.9, 2.2, 3.3, 1.9, 2.7, 3.5,
            2.7, 1.6, 3.1, 2.4, 4.1, 1.8, 2.6, 3.6, 2.1, 3.0,
            1.7, 3.0, 2.3, 3.8, 1.5, 3.2, 2.6, 2.0, 3.4, 2.5,
            3.4, 2.5, 1.9, 2.8, 3.6, 1.7, 3.2, 2.3, 2.9, 2.1,
            2.4, 1.9, 3.6, 2.1, 3.0, 4.0, 2.2, 3.1, 2.6, 1.8,
            3.0, 2.2, 2.9, 1.6, 3.5, 2.7, 2.0, 3.3, 2.4, 2.0,
            2.8, 2.2, 3.5, 2.9, 2.0, 3.4, 2.6, 3.1, 2.3, 2.0,
            3.3, 2.7, 3.8, 2.2, 2.9, 3.5, 2.4, 2.8, 2.2, 1.7,
            2.2, 3.1, 2.5, 4.4, 2.7, 3.0, 2.1, 2.5, 2.6, 3.2]
reyr_p2o5 = [0.2, 0.4, 0.5, 0.7, 0.8, 0.9, 1.0, 1.2, 1.3, 1.4,
             1.5, 1.6, 1.8, 1.9, 2.0, 2.1, 2.2, 2.3, 2.5, 2.7,
             2.8, 2.9, 3.2, 3.0, 3.4, 3.3, 4.4, 4.1, 3.4, 2.2,
             0.8, 2.6, 3.0, 2.3, 1.4, 0.6, 0.9, 1.1, 1.4, 1.7,
             0.3, 0.7, 0.9, 1.0, 1.5, 1.7, 1.9, 2.0, 2.4, 2.6,
             3.1, 0.7, 2.6, 0.5, 0.6, 0.3, 0.4, 0.8, 0.6, 1.8,
             0.25, 0.45, 0.7, 0.95, 1.2, 1.45, 1.7, 1.95, 2.2, 2.45,
             0.3, 0.55, 0.8, 1.05, 1.3, 1.55, 1.8, 2.05, 2.3, 2.65,
             0.5, 0.75, 1.0, 1.25, 1.5, 1.75, 2.0, 2.25, 2.55, 2.9,
             0.6, 0.85, 1.1, 1.35, 1.6, 1.85, 2.1, 2.35, 2.75, 3.1,
             0.35, 0.6, 0.85, 1.2, 1.55, 1.95, 2.3, 2.6, 3.0, 3.5,
             0.4, 0.75, 1.05, 1.35, 1.65, 1.95, 2.45, 2.85, 3.35, 3.9,
             0.2, 0.5, 0.8, 1.1, 1.4, 1.7, 2.0, 2.3, 2.6, 2.9,
             0.35, 0.65, 0.95, 1.25, 1.55, 1.85, 2.15, 2.5, 3.2, 3.6,
             0.55, 0.85, 1.15, 1.45, 1.75, 2.05, 2.35, 2.75, 0.3, 1.4]
reyr_rey = [250, 350, 400, 500, 550, 650, 700, 800, 850, 950,
            1000, 1100, 1150, 1250, 1350, 1400, 1550, 1600, 1800, 2000,
            1950, 1850, 2230, 1700, 1650, 2230, 1250, 1100, 1470, 1280,
            800, 1450, 1280, 1060, 1080, 450, 600, 750, 900, 1200,
            300, 600, 650, 700, 1000, 1050, 1150, 1300, 1500, 1600,
            1700, 900, 700, 600, 850, 200, 350, 500, 700, 850,
            300, 450, 600, 750, 900, 1050, 1200, 1350, 1500, 1650,
            350, 500, 650, 800, 950, 1100, 1250, 1400, 1550, 1750,
            450, 600, 750, 900, 1050, 1200, 1350, 1500, 1700, 1900,
            500, 650, 800, 950, 1100, 1250, 1400, 1550, 1800, 2000,
            250, 400, 550, 700, 900, 1050, 1200, 1400, 1600, 1800,
            300, 500, 650, 800, 950, 1100, 1300, 1500, 1700, 1900,
            350, 500, 700, 850, 1000, 1150, 1300, 1450, 1600, 1750,
            400, 550, 750, 900, 1050, 1200, 1350, 1550, 1850, 2000,
            450, 650, 800, 1000, 1150, 1300, 1450, 1650, 300, 950]

# Reference materials
shale_cao = [1.0, 3.4]
shale_al2o3 = [19.3, 17.0]
shale_fe2o3 = [7.5, 6.0]
shale_mno = [0.11, 0.06]
shale_k2o = [3.8, 4.0]
shale_p2o5 = [0.17, 0.14]
shale_rey = [230, 160]

morb_cao = [11.8]
morb_al2o3 = [15.3]
morb_fe2o3 = [11.9]
morb_mno = [0.17]
morb_k2o = [0.2]
morb_p2o5 = [0.1]
morb_rey = [95]

oib_cao = [9.0]
oib_al2o3 = [15.1]
oib_fe2o3 = [12.0]
oib_mno = [0.2]
oib_k2o = [1.47]
oib_p2o5 = [0.55]
oib_rey = [416]

phil_cao = [1.7]
phil_al2o3 = [19.1]
phil_fe2o3 = [3.7]
phil_mno = [0.05]
phil_k2o = [7.7]
phil_p2o5 = [1.26]
phil_rey = [997]

apatite_cao = [59.0]
apatite_p2o5 = [41.0]
apatite_rey = [1440]
# off-scale apatite in the P2O5 panel is drawn at the top edge
apatite_shown_cao = [8.0]
apatite_shown_p2o5 = [5.88]

# Hydrothermal Fe-rich sediments (visible points, per panel)
hydro_cao_al = [6.6, 6.6, 5.5, 8.4, 9.0, 7.1, 2.2, 8.2, 9.9, 4.3, 9.8, 2.6, 4.5, 5.2, 6.7, 8.2, 10.1, 3.7, 5.6]
hydro_al2o3 = [7.0, 6.1, 5.2, 4.7, 4.7, 4.3, 3.7, 3.2, 3.1, 2.7, 2.9, 0.8, 1.2, 0.9, 0.8, 0.8, 0.7, 0.5, 0.3]
hydro_cao_fe = [2.6, 2.7, 2.8, 4.5, 4.1, 6.7, 7.1, 5.6, 9.7, 10.0, 10.4, 5.8, 7.3, 8.6, 9.4, 6.8, 9.0, 4.6]
hydro_fe2o3 = [78.7, 75.6, 72.4, 69.5, 69.0, 73.5, 67.6, 66.8, 71.3, 67.2, 65.8, 60.8, 34.2, 36.0, 35.6, 31.4, 31.0, 30.0]
hydro_cao_mn = [5.2, 3.9, 3.3, 4.8, 2.4, 6.9, 8.2, 10.1, 5.6, 4.2, 9.7, 2.1, 9.5, 2.2, 7.5, 8.6, 6.6, 9.2, 8.2, 4.5, 6.6, 8.2]
hydro_mno = [24.6, 24.1, 23.6, 23.5, 22.4, 22.5, 22.3, 22.2, 22.0, 20.9, 16.5, 14.5, 13.7, 12.0, 10.1, 9.6, 9.4, 9.2, 8.2, 7.1, 6.9, 7.2]
hydro_cao_k = [7.1, 8.6, 4.5, 7.3, 5.6, 6.9, 10.1, 4.5, 2.6, 4.9, 7.1, 8.6, 10.1, 3.7, 6.0]
hydro_k2o = [2.0, 1.85, 1.45, 1.5, 1.2, 0.82, 0.9, 0.4, 0.14, 0.06, 0.06, 0.1, 0.06, 0.1, 0.08]
hydro_cao_p = [9.0, 8.6, 8.2, 7.7, 6.9, 6.6, 4.3]
hydro_p2o5 = [4.85, 4.64, 4.6, 4.21, 3.87, 3.74, 2.38]
hydro_cao_rey = [7.0, 2.4, 2.5, 4.6, 9.9, 5.1, 2.8, 5.8, 8.1, 5.4, 7.5, 4.1, 8.3, 10.4, 3.0]
hydro_rey = [3139, 1226, 1196, 938, 850, 747, 570, 600, 581, 471, 423, 298, 213, 298, 453]

sediment_labels = ["Biogenous carbonate-rich", "Biogenous silica-rich",
                   "Terrigenous component-rich",
                   "Volcaniclastic component-rich\n(OIB-derived)", "REY-rich"]
reference_labels = ["Average shales (PAAS & NASC)", "MORB", "OIB", "Apatite",
                    "Phillipsite", "Hydrothermal Fe-rich sediment"]

# ---------------- styling ----------------
sns.set_theme(style="white")
plt.rcParams["font.family"] = ["Liberation Sans", "DejaVu Sans"]
plt.rcParams["mathtext.fontset"] = "custom"
plt.rcParams["mathtext.rm"] = "Liberation Sans"
plt.rcParams["mathtext.it"] = "Liberation Sans"
plt.rcParams["mathtext.bf"] = "Liberation Sans"
plt.rcParams["mathtext.default"] = "regular"

INK = "#231F20"
C_CARB = "#00AEEF"
C_SIL = "#92278F"
C_TERR = "#F26B3A"
C_VOLC = "#3A8A44"
C_REYR = "#231F20"
C_SHALE = "#FFF200"
C_MORB = "#8DC63F"
C_APAT = "#C69C6D"
C_PHIL = "#0072BC"
C_HYDRO = "#ED1C24"

keys = ["al2o3", "fe2o3", "mno", "k2o", "p2o5", "rey"]


def frame(cao, al, fe, mn, k, p, rey):
    return pd.DataFrame({"CaO": cao, "al2o3": al, "fe2o3": fe, "mno": mn,
                         "k2o": k, "p2o5": p, "rey": rey})


carb = frame(carb_cao, carb_al2o3, carb_fe2o3, carb_mno, carb_k2o, carb_p2o5, carb_rey)
sil = frame(sil_cao, sil_al2o3, sil_fe2o3, sil_mno, sil_k2o, sil_p2o5, sil_rey)
terr = frame(terr_cao, terr_al2o3, terr_fe2o3, terr_mno, terr_k2o, terr_p2o5, terr_rey)
volc = frame(volc_cao, volc_al2o3, volc_fe2o3, volc_mno, volc_k2o, volc_p2o5, volc_rey)
reyr = frame(reyr_cao, reyr_al2o3, reyr_fe2o3, reyr_mno, reyr_k2o, reyr_p2o5, reyr_rey)
shale = frame(shale_cao, shale_al2o3, shale_fe2o3, shale_mno, shale_k2o, shale_p2o5, shale_rey)
morb = frame(morb_cao, morb_al2o3, morb_fe2o3, morb_mno, morb_k2o, morb_p2o5, morb_rey)
oib = frame(oib_cao, oib_al2o3, oib_fe2o3, oib_mno, oib_k2o, oib_p2o5, oib_rey)
phil = frame(phil_cao, phil_al2o3, phil_fe2o3, phil_mno, phil_k2o, phil_p2o5, phil_rey)
hydro = {
    "al2o3": (hydro_cao_al, hydro_al2o3),
    "fe2o3": (hydro_cao_fe, hydro_fe2o3),
    "mno": (hydro_cao_mn, hydro_mno),
    "k2o": (hydro_cao_k, hydro_k2o),
    "p2o5": (hydro_cao_p, hydro_p2o5),
    "rey": (hydro_cao_rey, hydro_rey),
}

panels = {
    "al2o3": dict(title=r"Al$_2$O$_3$ (wt%)", ymax=25, ticks=[0, 5, 10, 15, 20, 25], col=0, row=0),
    "fe2o3": dict(title=r"Fe$_2$O$_3$ (wt%)", ymax=100, ticks=[0, 20, 40, 60, 80, 100], col=1, row=0),
    "mno": dict(title="MnO (wt%)", ymax=30, ticks=[0, 10, 20, 30], col=0, row=1),
    "k2o": dict(title=r"K$_2$O (wt%)", ymax=8, ticks=[0, 2, 4, 6, 8], col=1, row=1),
    "p2o5": dict(title=r"P$_2$O$_5$ (wt%)", ymax=6, ticks=[0, 1, 2, 3, 4, 5, 6], col=0, row=2),
    "rey": dict(title="ΣREY (ppm)", ymax=3500, ticks=list(range(0, 3501, 500)), col=1, row=2),
}

W, H = 1095, 1303
fig = plt.figure(figsize=(W / 100, H / 100), dpi=100)
col_x = [(49, 466), (558, 463)]
row_y = [(20, 337), (368, 684), (714, 1031)]

plus_kw = dict(marker="+", s=70, linewidth=1.25, legend=False)
for key in keys:
    p = panels[key]
    x0, w = col_x[p["col"]]
    yt, yb = row_y[p["row"]]
    ax = fig.add_axes([x0 / W, 1 - yb / H, w / W, (yb - yt) / H])

    sns.scatterplot(data=carb, x="CaO", y=key, color=C_CARB, ax=ax, zorder=2, **plus_kw)
    sns.scatterplot(data=sil, x="CaO", y=key, color=C_SIL, ax=ax, zorder=3, **plus_kw)
    sns.scatterplot(data=terr, x="CaO", y=key, color=C_TERR, ax=ax, zorder=3, **plus_kw)
    sns.scatterplot(data=volc, x="CaO", y=key, color=C_VOLC, ax=ax, zorder=3, **plus_kw)
    sns.scatterplot(data=reyr, x="CaO", y=key, color=C_REYR, ax=ax, zorder=4, **plus_kw)

    hx, hy = hydro[key]
    sns.scatterplot(x=hx, y=hy, marker="^", s=125, color=C_HYDRO, edgecolor=INK, linewidth=1.3,
                    ax=ax, zorder=5, legend=False, clip_on=False)
    sns.scatterplot(data=oib, x="CaO", y=key, marker="D", s=72, color=C_MORB, edgecolor=INK,
                    linewidth=1.3, ax=ax, zorder=6, legend=False, clip_on=False)
    sns.scatterplot(data=oib, x="CaO", y=key, marker="+", s=95, color=INK, linewidth=1.1,
                    ax=ax, zorder=6.5, legend=False, clip_on=False)
    sns.scatterplot(data=morb, x="CaO", y=key, marker="D", s=72, color=C_MORB, edgecolor=INK,
                    linewidth=1.3, ax=ax, zorder=6, legend=False, clip_on=False)
    sns.scatterplot(data=phil, x="CaO", y=key, marker="s", s=105, color=C_PHIL, edgecolor=INK,
                    linewidth=1.3, ax=ax, zorder=7, legend=False, clip_on=False)
    if key == "rey":
        sns.scatterplot(x=apatite_cao, y=apatite_rey, marker="s", s=115, color=C_APAT, edgecolor=INK,
                        linewidth=1.3, ax=ax, zorder=7, legend=False, clip_on=False)
    if key == "p2o5":
        sns.scatterplot(x=apatite_shown_cao, y=apatite_shown_p2o5, marker="s", s=115, color=C_APAT,
                        edgecolor=INK, linewidth=1.3, ax=ax, zorder=7, legend=False, clip_on=False)
        ax.annotate("", xy=(apatite_shown_cao[0], 6.33), xytext=(apatite_shown_cao[0], 6.02),
                    arrowprops=dict(arrowstyle="-|>", color=INK, lw=1.0, mutation_scale=9,
                                    shrinkA=0, shrinkB=0),
                    annotation_clip=False, zorder=8)
        ax.text(apatite_shown_cao[0] + 1.3, 6.2, f"({apatite_cao[0]:.1f}, {apatite_p2o5[0]:.1f})",
                fontsize=9.3, color=INK, va="center", ha="left", clip_on=False)
    sns.scatterplot(data=shale, x="CaO", y=key, marker="o", s=105, color=C_SHALE, edgecolor=INK,
                    linewidth=1.3, ax=ax, zorder=8, legend=False, clip_on=False)

    ax.set_xlim(0, 100)
    ax.set_ylim(0, p["ymax"])
    ax.set_xticks([0, 20, 40, 60, 80, 100])
    ax.set_yticks(p["ticks"])
    if key == "rey":
        ax.yaxis.set_major_formatter(FuncFormatter(lambda v, _: f"{v:,.0f}"))
    ax.set_xlabel("")
    ax.set_ylabel("")
    for s in ax.spines.values():
        s.set_color(INK)
        s.set_linewidth(1.0)
        s.set_visible(True)
    left = p["col"] == 0
    bottom = p["row"] == 2
    ax.tick_params(axis="both", direction="in", length=7, width=1.0, color=INK,
                   top=True, bottom=True, left=True, right=True,
                   labelsize=14.5, labelcolor=INK,
                   labelleft=left, labelright=not left, labelbottom=bottom, labeltop=False)
    ax.tick_params(axis="y", pad=9 if left else 12)
    ax.tick_params(axis="x", pad=10)
    tx = 0.931 if left else 0.948
    ax.text(tx, 0.842, p["title"], transform=ax.transAxes, ha="right", va="baseline",
            fontsize=22, color=INK, zorder=10)

fig.text(528 / W, 1 - 1110 / H, "CaO (wt%)", ha="center", va="center", fontsize=22, color=INK)


# ---------------- legends ----------------
def mk(marker, face, edge=None, ms=8, mew=1.2):
    return Line2D([], [], ls="none", marker=marker, markersize=ms, markerfacecolor=face,
                  markeredgecolor=edge if edge else face, markeredgewidth=mew, color=face)


class FirstLineHandler(HandlerLine2D):
    """Place the legend marker beside the first line of a two-line label."""

    def create_artists(self, legend, orig_handle, xdescent, ydescent, width, height, fontsize, trans):
        arts = super().create_artists(legend, orig_handle, xdescent, ydescent, width, height,
                                      fontsize, trans)
        shifted = Affine2D().translate(0, 9) + trans
        for a in arts:
            a.set_transform(shifted)
        return arts


sed_handles = [mk("+", C_CARB), mk("+", C_SIL), mk("+", C_TERR), mk("+", C_VOLC), mk("+", C_REYR)]
ref_handles = [mk("o", C_SHALE, INK, 9.5, 1.3), mk("D", C_MORB, INK, 8, 1.3),
               (mk("D", C_MORB, INK, 8, 1.3), mk("+", INK, INK, 9.5, 1.1)),
               mk("s", C_APAT, INK, 9, 1.3), mk("s", C_PHIL, INK, 9, 1.3),
               mk("^", C_HYDRO, INK, 10, 1.3)]

leg_kw = dict(loc="upper left", frameon=True, fancybox=False, fontsize=13.5,
              handlelength=1.0, handletextpad=0.39, labelspacing=0.42, borderpad=0.5,
              borderaxespad=0.0, labelcolor=INK)
leg1 = fig.legend(sed_handles, sediment_labels, bbox_to_anchor=(233 / W, 1 - 1153 / H),
                  handler_map={sed_handles[3]: FirstLineHandler()}, **leg_kw)
leg2 = fig.legend(ref_handles, reference_labels, bbox_to_anchor=(545 / W, 1 - 1153 / H),
                  **{**leg_kw, "handlelength": 1.4, "handletextpad": 0.37, "labelspacing": 0.37})
for lg in (leg1, leg2):
    fr = lg.get_frame()
    fr.set_edgecolor(INK)
    fr.set_linewidth(1.0)

fig.savefig("out.png", dpi=100)
